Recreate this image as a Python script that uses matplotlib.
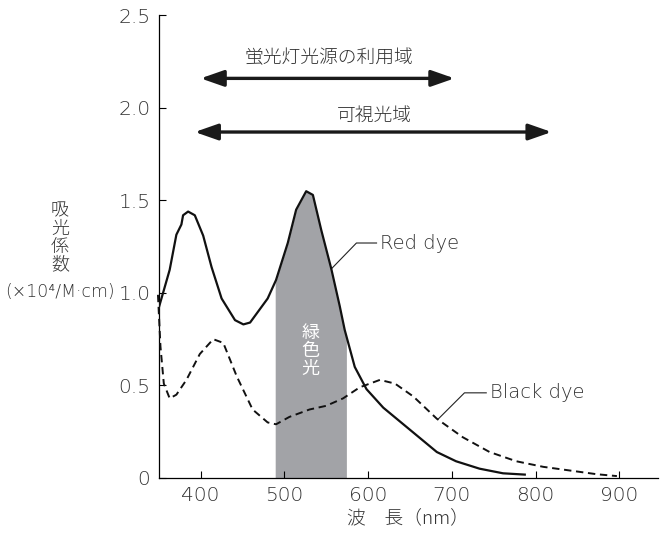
import numpy as np
import matplotlib
matplotlib.use('Agg')
import matplotlib.pyplot as plt

plt.rcParams['font.family'] = ['DejaVu Sans', 'Noto Sans CJK JP']
jp = ['Noto Sans CJK JP', 'DejaVu Sans']

# absorption spectra (wavelength nm, coefficient x10^4 /M cm)
red_nm = [350, 363, 371, 377, 379, 385, 393, 403, 413, 425, 441, 451, 459, 480, 490,
          504, 514, 526, 534, 544, 556, 566, 572, 584, 598, 618, 650, 682, 705, 733,
          761, 787]
red_val = [0.92, 1.125, 1.315, 1.37, 1.42, 1.44, 1.42, 1.31, 1.14, 0.97, 0.853, 0.83,
           0.84, 0.97, 1.07, 1.27, 1.45, 1.55, 1.53, 1.34, 1.13, 0.93, 0.80, 0.60, 0.48,
           0.38, 0.26, 0.14, 0.09, 0.05, 0.025, 0.018]

black_nm = [349, 352, 356, 363, 371, 383, 399, 415, 427, 443, 462, 480, 490, 506, 530,
            550, 570, 590, 614, 632, 654, 682, 713, 745, 777, 809, 841, 873, 897]
black_val = [0.99, 0.71, 0.51, 0.43, 0.45, 0.53, 0.67, 0.75, 0.73, 0.55, 0.37, 0.30,
             0.29, 0.33, 0.37, 0.39, 0.43, 0.49, 0.53, 0.51, 0.44, 0.32, 0.22, 0.14,
             0.09, 0.06, 0.04, 0.02, 0.01]

green_band = (489, 574)
fluor_range = (400, 703)
visible_range = (393, 819)

x_ticks = [400, 500, 600, 700, 800, 900]
y_ticks = [0, 0.5, 1.0, 1.5, 2.0, 2.5]
y_ticklabels = ['0', '0.5', '1.0', '1.5', '2.0', '2.5']

txt = '#333333'

fig = plt.figure(figsize=(6.7, 5.34), dpi=100)
ax = fig.add_axes([0.237, 0.105, 0.745, 0.866])

# green light band under the red dye curve
rx = np.array(red_nm, dtype=float)
ry = np.array(red_val, dtype=float)
inside = (rx > green_band[0]) & (rx < green_band[1])
bx = np.concatenate([[green_band[0]], rx[inside], [green_band[1]]])
by = np.concatenate([[np.interp(green_band[0], rx, ry)], ry[inside],
                     [np.interp(green_band[1], rx, ry)]])
ax.fill_between(bx, 0, by, color='#a2a3a7', lw=0, zorder=1)
ax.text(sum(green_band) / 2, 0.686, '緑\n色\n光', color='white', fontsize=13,
        family=jp, ha='center', va='center', linespacing=1.0, zorder=2)

ax.plot(red_nm, red_val, color='#111111', lw=1.6, zorder=3)
ax.plot(black_nm, black_val, color='#111111', lw=1.4, ls=(0, (3.8, 2.4)), zorder=3,
        clip_on=False)

# labels with leader lines
ax.plot([556, 586, 610], [1.13, 1.27, 1.27], color='#222222', lw=0.8)
ax.text(614, 1.27, 'Red dye', fontsize=14, color=txt, weight='light',
        va='center', ha='left')
ax.plot([684, 715, 741], [0.32, 0.46, 0.46], color='#222222', lw=0.8)
ax.text(745, 0.46, 'Black dye', fontsize=14, color=txt, weight='light',
        va='center', ha='left')

# range arrows
for (x0, x1), yv, label, ly in [(fluor_range, 2.16, '蛍光灯光源の利用域', 2.27),
                                 (visible_range, 1.87, '可視光域', 1.955)]:
    ax.annotate('', xy=(x1, yv), xytext=(x0, yv),
                arrowprops=dict(arrowstyle='<|-|>,head_length=1.0,head_width=0.35',
                                color='#1a1a1a', lw=2.4, shrinkA=0, shrinkB=0,
                                mutation_scale=14))
    ax.text((x0 + x1) / 2 + 2, ly, label, fontsize=13.5, family=jp, weight='light',
            color=txt, ha='center', va='center')

ax.set_xlim(350, 946)
ax.set_ylim(0, 2.5)
ax.set_xticks(x_ticks)
ax.set_yticks(y_ticks)
ax.set_yticklabels(y_ticklabels)
ax.tick_params(direction='in', length=5, width=0.8, labelsize=14.5, labelcolor=txt,
               pad=6)
for lab in ax.get_xticklabels() + ax.get_yticklabels():
    lab.set_fontweight('light')
for s in ['top', 'right']:
    ax.spines[s].set_visible(False)
for s in ['left', 'bottom']:
    ax.spines[s].set_linewidth(0.9)

ax.set_xlabel('波　長（nm）', fontsize=13.5, family=jp, weight='light', color=txt,
              labelpad=3)
fig.text(0.0896, 0.555, '吸\n光\n係\n数', fontsize=13, family=jp, weight='light',
         color=txt, ha='center', va='center', linespacing=1.0)
fig.text(0.0896, 0.454, '(×10⁴/M·cm)', fontsize=12.5, weight='light', color=txt,
         ha='center', va='center')

fig.savefig('out.png', dpi=100)
